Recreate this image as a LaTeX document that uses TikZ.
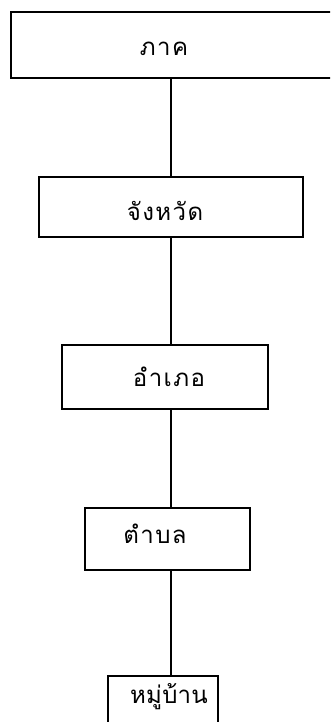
\documentclass[tikz,border=0pt]{standalone}
\usepackage{fontspec}
\newfontfamily\thaifont[Script=Thai,LetterSpace=6]{Loma}
\newfontfamily\thaitight[Script=Thai,LetterSpace=1]{Loma}
\begin{document}
\begin{tikzpicture}[x=1pt,y=-1pt,
  box/.style={draw=black, line width=2pt, inner sep=0pt},
  txt/.style={font=\thaifont\fontsize{24}{28}\selectfont, inner sep=0pt},
  txttight/.style={font=\thaitight\fontsize{24}{28}\selectfont, inner sep=0pt},
  link/.style={draw=black, line width=1.8pt}]
\useasboundingbox (0,0) rectangle (330,722);
\clip (0,0) rectangle (330,722);
\fill[white] (0,0) rectangle (330,722);
% boxes
\node[box, minimum width=334pt, minimum height=66pt] (n1) at (178,45) {};
\node[txt] (t1) at (164,49) {ภาค};
\node[box, minimum width=264pt, minimum height=60pt] (n2) at (171,207) {};
\node[txt] (t2) at (165,211) {จังหวัด};
\node[box, minimum width=206pt, minimum height=64pt] (n3) at (165,377) {};
\node[txt] (t3) at (169,377) {อำเภอ};
\node[box, minimum width=165pt, minimum height=62pt] (n4) at (167.5,539) {};
\node[txt] (t4) at (155,534) {ตำบล};
\node[box, minimum width=110pt, minimum height=60pt, anchor=north] (n5) at (163,675) {};
\node[txttight] (t5) at (169,697) {หมู่บ้าน};
% connectors
\draw[link] (n1.south -| n2.north) -- (n2.north);
\draw[link] (n2.south) -- (n2.south |- n3.north);
\draw[link] (n3.south -| n2.south) -- (n4.north -| n2.south);
\draw[link] (n4.south -| n2.south) -- (n5.north -| n2.south);
\end{tikzpicture}
\end{document}
